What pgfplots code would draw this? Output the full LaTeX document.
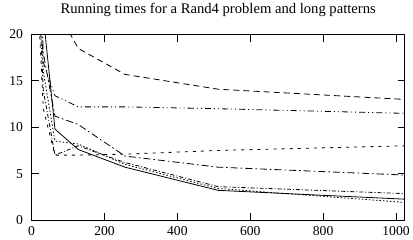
\documentclass[border=0pt]{standalone}
\usepackage{pgfplots}
\pgfplotsset{compat=1.18}
\usepackage{fontspec}
\setmainfont{Liberation Serif}
\begin{document}
\begin{tikzpicture}
\begin{axis}[
  scale only axis, width=370pt, height=184pt,
  xmin=0, xmax=1024, ymin=0, ymax=20,
  xtick={0,200,400,600,800,1000}, ytick={0,5,10,15,20},
  xticklabels={0,200,400,600,800,1000},
  yticklabels={0,5,10,15,20},
  tick align=inside, major tick length=7pt,
  tick style={black, line width=0.8pt},
  axis line style={line width=0.9pt},
  ticklabel style={font=\rmfamily\fontsize{13.5}{14}\selectfont},
  yticklabel style={xshift=-5pt},
  xticklabel style={yshift=-3pt},
  title={Running times for a Rand4 problem and long patterns},
  title style={font=\rmfamily\fontsize{14.5}{15}\selectfont, yshift=8pt},
  every axis plot/.append style={line width=0.8pt, black, no marks},
]
% solid
\addplot[black, solid, no marks] coordinates {(16,40) (32,22) (64,9.8) (128,7.6) (256,5.7) (512,3.2) (1024,2.25)};
% long dashed
\addplot[black, no marks, dash pattern=on 6pt off 4pt] coordinates {(16,60) (32,40) (64,23) (128,18.5) (256,15.7) (512,14.1) (1024,13.0)};
% dash-dot-dot ~12
\addplot[black, no marks, dash pattern=on 6pt off 3pt on 1pt off 3pt on 1pt off 3pt] coordinates {(16,30) (32,17) (64,13.4) (128,12.2) (256,12.2) (512,12.0) (1024,11.5)};
% dash-dot descending
\addplot[black, no marks, dash pattern=on 7pt off 3pt on 1.5pt off 3pt] coordinates {(16,35) (32,18) (64,11.2) (128,10.3) (256,6.9) (512,5.7) (1024,4.85)};
% short dashed rising
\addplot[black, no marks, dash pattern=on 3pt off 5pt] coordinates {(16,25) (32,12) (64,7.0) (128,7.0) (256,7.1) (512,7.5) (1024,8.0)};
% dash dot
\addplot[black, no marks, dash pattern=on 4pt off 2pt on 1pt off 2pt] coordinates {(16,28) (32,14) (64,7.0) (128,8.0) (256,6.2) (512,3.6) (1024,2.85)};
% dotted
\addplot[black, no marks, dash pattern=on 1.5pt off 2pt] coordinates {(16,30) (32,16) (64,8.5) (128,8.2) (256,6.0) (512,3.4) (1024,1.9)};
\end{axis}
\path ([xshift=-6pt]current bounding box.west);
\end{tikzpicture}
\end{document}
